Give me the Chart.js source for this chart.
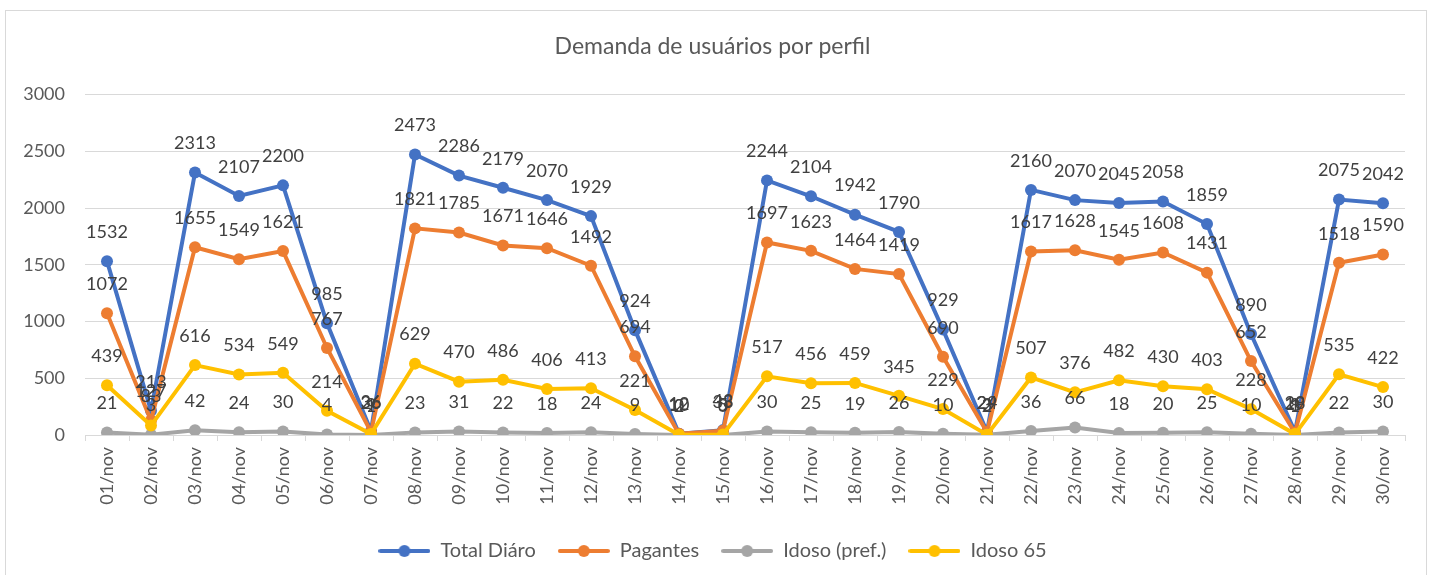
<!DOCTYPE html>
<html>
<head>
<meta charset="utf-8">
<script src="https://cdn.jsdelivr.net/npm/chart.js@4"></script>
<style>
  body { margin: 0; background: #fff; }
  #frame { position: absolute; left: 5px; top: 10px; width: 1422px; height: 590px; border: 1px solid #d9d9d9; box-sizing: border-box; }
  #chart { position: absolute; left: 0; top: 0; }
</style>
</head>
<body>
<div id="frame"></div>
<canvas id="chart" width="1434" height="575"></canvas>
<script>
const days = ["01/nov","02/nov","03/nov","04/nov","05/nov","06/nov","07/nov","08/nov","09/nov","10/nov",
  "11/nov","12/nov","13/nov","14/nov","15/nov","16/nov","17/nov","18/nov","19/nov","20/nov",
  "21/nov","22/nov","23/nov","24/nov","25/nov","26/nov","27/nov","28/nov","29/nov","30/nov"];

const totalDiario = [1532, 213, 2313, 2107, 2200, 985, 36, 2473, 2286, 2179, 2070, 1929, 924, 12, 43,
  2244, 2104, 1942, 1790, 929, 29, 2160, 2070, 2045, 2058, 1859, 890, 28, 2075, 2042];
const pagantes = [1072, 127, 1655, 1549, 1621, 767, 26, 1821, 1785, 1671, 1646, 1492, 694, 10, 38,
  1697, 1623, 1464, 1419, 690, 24, 1617, 1628, 1545, 1608, 1431, 652, 19, 1518, 1590];
const idosoPref = [21, 3, 42, 24, 30, 4, 1, 23, 31, 22, 18, 24, 9, 0, 0,
  30, 25, 19, 26, 10, 2, 36, 66, 18, 20, 25, 10, 1, 22, 30];
const idoso65 = [439, 83, 616, 534, 549, 214, 9, 629, 470, 486, 406, 413, 221, 2, 5,
  517, 456, 459, 345, 229, 3, 507, 376, 482, 430, 403, 228, 8, 535, 422];

const yTicks = [0, 500, 1000, 1500, 2000, 2500, 3000];

const FONT = "Lato, 'Open Sans', sans-serif";

function legendIcon(color) {
  const c = document.createElement("canvas");
  c.width = 52; c.height = 14;
  const g = c.getContext("2d");
  g.strokeStyle = color; g.lineWidth = 4; g.lineCap = "round";
  g.beginPath(); g.moveTo(2, 7); g.lineTo(50, 7); g.stroke();
  g.fillStyle = color;
  g.beginPath(); g.arc(26, 7, 6, 0, Math.PI * 2); g.fill();
  return c;
}

function series(label, data, color, order) {
  return {
    label: label,
    data: data,
    borderColor: color,
    backgroundColor: color,
    borderWidth: 4,
    pointRadius: 6,
    pointBorderWidth: 0,
    pointBackgroundColor: color,
    tension: 0,
    order: order,
    icon: legendIcon(color)
  };
}

// values above each point
const valueLabels = {
  id: "valueLabels",
  afterDatasetsDraw(chart) {
    const ctx = chart.ctx;
    ctx.save();
    ctx.font = "18px " + FONT;
    ctx.fillStyle = "#404040";
    ctx.textAlign = "center";
    ctx.textBaseline = "middle";
    chart.data.datasets.forEach((ds, i) => {
      const meta = chart.getDatasetMeta(i);
      meta.data.forEach((pt, j) => {
        ctx.fillText(String(ds.data[j]), pt.x, pt.y - 29);
      });
    });
    ctx.restore();
  }
};

new Chart(document.getElementById("chart"), {
  type: "line",
  data: {
    labels: days,
    datasets: [
      series("Total Diáro", totalDiario, "#4472C4", 3),
      series("Pagantes", pagantes, "#ED7D31", 2),
      series("Idoso (pref.)", idosoPref, "#A5A5A5", 1),
      series("Idoso 65", idoso65, "#FFC000", 0)
    ]
  },
  options: {
    responsive: false,
    animation: false,
    devicePixelRatio: 1,
    layout: { padding: { left: 20, right: 29, top: 8, bottom: 4 } },
    plugins: {
      tooltip: { enabled: false },
      title: {
        display: true,
        text: "Demanda de usuários por perfil",
        color: "#595959",
        font: { family: FONT, size: 23, weight: "normal" },
        padding: { top: 25, bottom: 34 }
      },
      legend: {
        position: "bottom",
        labels: {
          usePointStyle: true,
          pointStyleWidth: 52,
          color: "#595959",
          font: { family: FONT, size: 20 },
          padding: 22,
          sort: (a, b) => a.datasetIndex - b.datasetIndex,
          generateLabels(chart) {
            const items = Chart.defaults.plugins.legend.labels.generateLabels(chart);
            items.forEach(it => { it.pointStyle = chart.data.datasets[it.datasetIndex].icon; });
            return items;
          }
        }
      }
    },
    scales: {
      x: {
        offset: true,
        grid: { offset: true, drawOnChartArea: false, drawTicks: true, tickLength: 6, color: "#d9d9d9" },
        border: { color: "#d9d9d9" },
        ticks: { minRotation: 90, maxRotation: 90, autoSkip: false, color: "#595959", padding: 6,
          font: { family: FONT, size: 18 } },
        afterFit(scale) { scale.height = 84; }
      },
      y: {
        min: 0,
        max: 3000,
        clip: false,
        afterBuildTicks(scale) { scale.ticks = yTicks.map(v => ({ value: v })); },
        grid: { color: "#d9d9d9", drawTicks: false },
        border: { display: false },
        ticks: { color: "#595959", padding: 20, font: { family: FONT, size: 18 },
          callback: v => String(v) },
        afterFit(scale) { scale.width = 65; }
      }
    }
  },
  plugins: [valueLabels]
});
</script>
</body>
</html>
